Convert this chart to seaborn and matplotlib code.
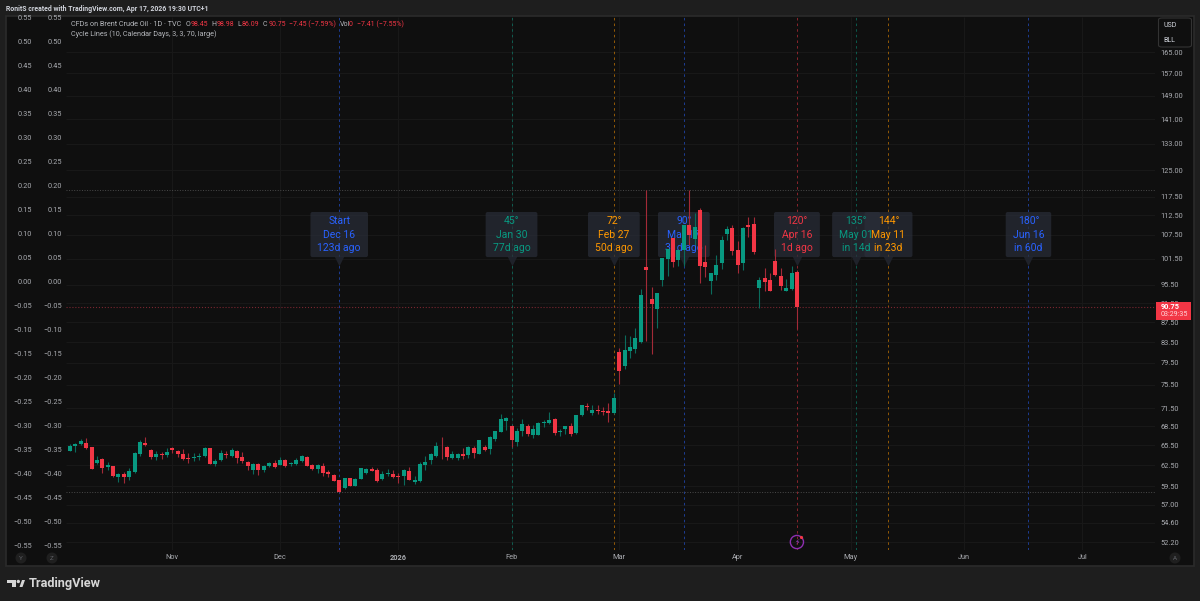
import matplotlib
matplotlib.use("Agg")
from matplotlib import pyplot as plt
from matplotlib.patches import Rectangle, FancyBboxPatch, Polygon, Circle
from matplotlib.ticker import FixedLocator, NullLocator, FuncFormatter
import numpy as np
import pandas as pd
import seaborn as sns

# Brent daily candles
opens = [64.7, 65.45, 65.7, 65.85, 65.25, 62.85, 63.45, 62.3, 62.45, 60.85, 61.25, 60.8, 61.5, 64.2, 65.85, 64.85, 63.8,
         64.15, 64.0, 65.1, 64.65, 64.15, 63.55, 63.6, 63.7, 63.9, 65.15, 62.65, 63.25, 64.15, 63.9, 64.65, 63.7, 63.0,
         61.85, 62.75, 61.85, 62.35, 62.85, 62.6, 63.3, 62.65, 62.75, 63.2, 63.7, 62.55, 62.0, 62.45, 61.55, 61.1, 60.4,
         59.22, 60.62, 59.61, 60.57, 61.43, 62.01, 61.87, 60.57, 61.19, 61.29, 60.9, 60.9, 61.72, 60.09, 60.23, 62.49,
         63.31, 63.95, 65.45, 65.3, 63.6, 63.55, 64.15, 64.05, 65.14, 64.26, 65.24, 64.88, 66.49, 67.58, 69.43, 68.62,
         65.97, 67.79, 68.57, 67.16, 67.16, 69.09, 68.98, 69.65, 67.53, 68.05, 68.57, 67.37, 70.27, 71.85, 70.67, 71.17,
         71.0, 71.0, 70.67, 81.5, 78.95, 81.85, 82.1, 83.45, 99.7, 92.4, 90.25, 96.7, 101.6, 106.55, 101.2, 103.7, 109.85,
         106.4, 113.85, 100.85, 96.4, 97.8, 100.6, 107.55, 109.25, 103.65, 100.55, 110.0, 110.25, 94.85, 97.05, 96.6,
         101.0, 97.55, 94.2, 94.5, 98.45]
highs = [65.75, 65.85, 66.55, 66.65, 65.25, 63.95, 63.65, 62.95, 62.45, 61.45, 61.6, 62.1, 64.45, 66.4, 66.8, 64.95, 64.6,
         64.55, 65.1, 65.3, 64.75, 64.95, 64.35, 64.4, 64.35, 65.3, 65.15, 63.4, 64.8, 64.6, 65.15, 64.8, 64.45, 63.1,
         62.85, 62.85, 62.6, 63.05, 63.3, 63.8, 63.4, 63.05, 63.55, 64.05, 63.9, 62.75, 62.75, 62.85, 61.85, 61.25, 60.4,
         60.71, 60.66, 60.66, 62.11, 62.06, 62.2, 62.06, 61.72, 61.91, 61.87, 61.39, 61.96, 62.25, 60.95, 62.97, 63.89,
         64.31, 65.97, 66.8, 65.45, 64.72, 64.41, 65.09, 65.45, 65.45, 66.38, 65.61, 66.9, 67.79, 70.55, 70.1, 68.72,
         68.2, 69.77, 68.82, 68.72, 69.26, 69.54, 70.78, 69.82, 68.1, 68.62, 68.98, 70.39, 72.07, 72.35, 72.07, 71.96,
         71.62, 72.35, 74.04, 82.3, 84.85, 84.65, 86.3, 94.55, 119.4, 95.0, 93.7, 101.8, 103.95, 106.55, 103.55, 110.0,
         119.25, 113.0, 114.4, 104.95, 98.1, 102.5, 107.05, 109.6, 110.0, 105.95, 109.4, 112.0, 111.9, 97.2, 99.4, 98.2,
         103.95, 99.4, 96.85, 99.95, 98.98]
lows = [64.7, 64.55, 65.6, 64.9, 62.0, 62.75, 61.45, 61.85, 60.85, 60.1, 60.0, 60.4, 61.4, 63.95, 65.45, 63.45, 63.35,
        63.45, 63.8, 64.4, 63.8, 63.35, 62.85, 63.2, 63.3, 63.8, 62.65, 62.35, 63.2, 63.55, 63.7, 62.9, 62.9, 61.85,
        61.25, 61.05, 61.5, 62.2, 62.1, 62.5, 62.2, 62.35, 62.6, 63.05, 62.35, 61.85, 61.45, 60.9, 60.8, 60.2, 58.65,
        59.17, 59.56, 59.51, 60.52, 61.29, 61.63, 60.13, 60.42, 60.95, 60.66, 59.99, 59.7, 60.33, 59.8, 60.09, 61.87,
        62.73, 63.79, 63.45, 63.31, 63.4, 63.31, 63.45, 63.6, 63.55, 64.2, 64.57, 64.2, 66.22, 67.53, 67.84, 65.24,
        65.35, 67.01, 66.9, 66.64, 67.11, 68.46, 68.88, 67.16, 66.9, 67.32, 66.9, 67.32, 70.22, 71.12, 70.27, 70.5,
        70.33, 69.15, 70.55, 75.7, 78.45, 80.35, 81.35, 83.25, 83.65, 81.25, 86.3, 95.15, 97.55, 99.6, 99.95, 99.95,
        104.95, 104.95, 95.85, 97.4, 93.55, 96.6, 99.1, 106.2, 102.5, 98.3, 98.95, 106.9, 102.65, 90.4, 94.2, 94.05,
        97.55, 94.4, 94.1, 94.35, 86.09]
closes = [65.45, 65.75, 66.25, 65.15, 62.0, 63.35, 62.15, 62.5, 60.9, 61.3, 60.85, 61.65, 64.35, 65.95, 65.6, 63.7, 64.25,
          64.05, 64.55, 64.8, 64.25, 63.45, 63.45, 63.7, 63.85, 65.05, 62.65, 63.1, 64.35, 64.05, 64.75, 63.55, 63.1, 62.45,
          62.75, 61.85, 62.45, 62.9, 62.25, 63.25, 62.35, 62.85, 63.35, 63.85, 62.45, 62.0, 62.55, 61.45, 61.2, 60.3, 58.65,
          60.66, 59.61, 60.57, 62.06, 61.91, 61.72, 60.23, 61.24, 61.34, 60.86, 60.81, 61.82, 60.42, 60.38, 62.68, 62.97,
          64.2, 65.45, 65.35, 63.79, 64.2, 64.15, 63.89, 65.3, 64.31, 66.33, 64.83, 66.8, 67.68, 69.65, 69.82, 66.28,
          67.79, 68.88, 67.22, 68.1, 69.09, 69.2, 69.54, 67.42, 67.79, 68.51, 67.27, 70.27, 71.96, 71.68, 71.12, 70.95,
          70.78, 70.72, 73.25, 77.95, 81.9, 82.55, 84.3, 93.3, 98.8, 91.25, 93.6, 101.8, 103.95, 100.85, 103.55, 110.0,
          107.5, 109.5, 99.95, 99.7, 98.1, 100.15, 106.2, 108.9, 103.3, 100.15, 109.25, 109.5, 103.15, 96.7, 96.15, 94.1,
          97.8, 95.15, 94.9, 98.25, 90.75]

price_ticks = [165, 157, 149, 141, 133, 125, 117.5, 112.5, 107.5, 101.5, 95.5, 91.5, 87.5, 83.5, 79.5, 75.5, 71.5, 68.5,
               65.5, 62.5, 59.5, 57, 54.6, 52.2]
left_ticks = [0.55, 0.5, 0.45, 0.4, 0.35, 0.3, 0.25, 0.2, 0.15, 0.1, 0.05, 0.0, -0.05, -0.1, -0.15, -0.2, -0.25, -0.3,
              -0.35, -0.4, -0.45, -0.5, -0.55]
month_labels = ["Nov", "Dec", "2026", "Feb", "Mar", "Apr", "May", "Jun", "Jul"]
month_bars = [19, 39, 61, 82, 102, 124, 145, 166, 188]

# cycle lines
cycle_bars = [50, 82, 101, 114, 135, 146, 152, 178]
cycle_angles = ["Start", "45°", "72°", "90°", "120°", "135°", "144°", "180°"]
cycle_dates = ["Dec 16", "Jan 30", "Feb 27", "Mar 17", "Apr 16", "May 01", "May 11", "Jun 16"]
cycle_ago = ["123d ago", "77d ago", "50d ago", "31d ago", "1d ago", "in 14d", "in 23d", "in 60d"]
cycle_colors = ["#2962ff", "#089981", "#ff9800", "#2962ff", "#f23645", "#089981", "#ff9800", "#2962ff"]
label_price = 100.9

last_price = 90.75
range_high = 119.4
range_low = 58.65
event_bar = 135
event_price = 52.2

W, H = 1200, 601
BG = "#1e1e1e"
PANEL = "#0f0f0f"
GREY = "#a9abb0"
LIGHT = "#d1d4dc"
RED = "#f23645"
GREEN = "#089981"


def fx(x):
    return x / W


def fy(y):
    return 1 - y / H


def label(x, y, s, color=GREY, size=5.0, **kw):
    fig.text(fx(x), fy(y), s, color=color, fontsize=size, va="center", **kw)


def candle_frame(a, b):
    up = np.array(closes) >= np.array(opens)
    rows = []
    for i in range(len(opens)):
        rows.append((i, a[i], up[i]))
        rows.append((i, b[i], up[i]))
    return pd.DataFrame(rows, columns=["bar", "price", "up"])


sns.set_theme(style="dark", rc={"axes.facecolor": PANEL, "figure.facecolor": BG, "lines.solid_capstyle": "butt"})
plt.rcParams["font.family"] = ["Roboto", "DejaVu Sans"]

fig = plt.figure(figsize=(W / 100, H / 100), dpi=100)

# panel behind the axes
fig.patches.append(Rectangle((fx(6), fy(565.5)), fx(1188), 549.5 / H, transform=fig.transFigure,
                             fc=PANEL, ec="#2b2b2b", lw=1.2, zorder=-1))

ax = fig.add_axes([fx(66), fy(550), fx(1155 - 66), 533 / H])
ax.set_facecolor(PANEL)
for s in ax.spines.values():
    s.set_visible(False)
ax.set_yscale("log")

ax.grid(True, which="major", color="#191919", lw=0.7)
ax.set_axisbelow(True)

for bar, col in zip(cycle_bars, cycle_colors):
    ax.axvline(bar, color=col, lw=0.7, ls=(0, (2.6, 3.2)), alpha=0.55, zorder=1)

ax.axhline(range_high, color="#4a4a4a", lw=0.7, ls=":", zorder=1.2)
ax.axhline(range_low, color="#4a4a4a", lw=0.7, ls=":", zorder=1.2)
ax.axhline(last_price, color="#7a2630", lw=0.8, ls=":", zorder=1.2)

sns.scatterplot(x=cycle_bars, y=[label_price] * len(cycle_bars), marker="v", s=48, color="#1f222a", linewidth=0,
                ax=ax, zorder=1.9, legend=False)

wicks = candle_frame(highs, lows)
bodies = candle_frame(opens, closes)
sns.lineplot(data=wicks, x="bar", y="price", units="bar", estimator=None, sort=False, hue="up",
             palette={True: "#0b6b5c", False: "#a32a37"}, lw=0.8, legend=False, ax=ax, zorder=3)
sns.lineplot(data=bodies, x="bar", y="price", units="bar", estimator=None, sort=False, hue="up",
             palette={True: GREEN, False: RED}, lw=2.9, legend=False, ax=ax, zorder=4)

# event marker under the last candle
sns.scatterplot(x=[event_bar], y=[event_price], marker="o", s=90, facecolor="none", edgecolor="#8e2fb0", linewidth=1.0,
                ax=ax, zorder=4, legend=False)
ax.text(event_bar, event_price, "⚡", color="#9c3cc4", fontsize=5.5, ha="center", va="center", zorder=5,
        family=["DejaVu Sans"])

ax.set_xlim(-0.74, 201.5)
ax.set_ylim(51.23, 179.2)
ax.set_xlabel("")
ax.set_ylabel("")

# cycle tooltips sit under the candles; box size comes from the measured text
renderer = fig.canvas.get_renderer()
for bar, ang, date, ago, col in zip(cycle_bars, cycle_angles, cycle_dates, cycle_ago, cycle_colors):
    t = ax.annotate(f"{ang}\n{date}\n{ago}", xy=(bar, label_price), xytext=(0, 19.4), textcoords="offset points",
                    ha="center", va="center", color=col, fontsize=7.5, linespacing=1.42, zorder=2.1)
    box = t.get_window_extent(renderer)
    ax.add_patch(FancyBboxPatch((box.x0 - 5, box.y0 - 2.2), box.width + 10, box.height + 4.4,
                                boxstyle="round,pad=2,rounding_size=2", transform=None,
                                fc="#2a2e39", ec="none", alpha=0.7, zorder=2))

ax.yaxis.tick_right()
ax.yaxis.set_major_locator(FixedLocator(price_ticks))
ax.yaxis.set_minor_locator(NullLocator())
ax.yaxis.set_major_formatter(FuncFormatter(lambda v, _: f"{v:.2f}"))
ax.set_xticks(month_bars)
ax.set_xticklabels(month_labels)
ax.tick_params(axis="y", which="both", length=0, pad=4.2, labelsize=5.3, labelcolor=GREY)
ax.tick_params(axis="x", length=0, pad=3.2, labelsize=5.3, labelcolor=GREY)
ax.get_xticklabels()[2].set_fontweight("bold")

# the two linear scales on the left
for pad in (2.8, 24.6):
    ax_left = fig.add_axes(ax.get_position(), sharex=ax, frameon=False)
    ax_left.set_ylim((282 - 550) / 480, (282 - 17) / 480)
    ax_left.set_yticks(left_ticks)
    ax_left.set_yticklabels([f"{v:.2f}".replace("-", "\u2212") for v in left_ticks])
    ax_left.tick_params(axis="y", length=0, pad=pad, labelsize=5.3, labelcolor=GREY)
    ax_left.tick_params(axis="x", length=0, labelbottom=False)
    ax_left.grid(False)
    ax_left.patch.set_visible(False)

# last price tag
fig.patches.append(Rectangle((fx(1156), fy(320)), fx(35), 18 / H, transform=fig.transFigure, fc=RED, ec="none", zorder=5))
label(1161, 307, f"{last_price:.2f}", color="white", size=5.3, fontweight="bold", zorder=6)
label(1161, 315, "03:29:35", color="#ffd5d9", size=5.1, zorder=6)

# currency / unit box
fig.patches.append(FancyBboxPatch((fx(1158.5), fy(47)), fx(33), 29 / H, boxstyle="round,pad=0,rounding_size=0.003",
                                  transform=fig.transFigure, fc=PANEL, ec="#333333", lw=0.8, zorder=5))
label(1163, 25.5, "USD", color=LIGHT, size=5.0, zorder=6)
label(1163, 41, "BLL", color=LIGHT, size=5.0, zorder=6)

# header and legend lines
label(6, 9, "RonitS created with TradingView.com, Apr 17, 2026 19:30 UTC+1", color=LIGHT, size=4.95, fontweight="bold")
label(71, 24.5, "CFDs on Brent Crude Oil · 1D · TVC", color="#b5b7bc", size=5.2)
for x, s, col in [(185.3, "O", "#b5b7bc"), (190.9, "98.45", RED), (211.7, "H", "#b5b7bc"), (216.9, "98.98", RED),
                  (237.7, "L", "#b5b7bc"), (242, "86.09", RED), (263, "C", "#b5b7bc"), (268.2, "90.75", RED),
                  (289, "\u22127.45 (\u22127.59%)", RED), (339.5, "Vol", "#b5b7bc"), (348.6, "0", RED),
                  (357, "\u22127.41 (\u22127.55%)", RED)]:
    label(x, 24.5, s, color=col)
label(71, 34.5, "Cycle Lines (10, Calendar Days, 3, 3, 70, large)", color="#b5b7bc", size=5.2)

# little round buttons
for x, s in [(21, "Y"), (52, "Z"), (1175, "A")]:
    fig.patches.append(Circle((x, H - 558), 5.5, transform=None, fc="#1f1f1f", ec="none", zorder=5))
    label(x, 558, s, color="#5f6166", size=4.5, ha="center", zorder=6)
fig.patches.append(Circle((801.5, H - 537.5), 1.6, transform=None, fc=RED, ec="none", zorder=6))

# footer logo
logo_col = "#d6d6d6"
for pts in ([(7, 580), (16, 580), (16, 587), (12, 587), (12, 583), (7, 583)],
            [(19.5, 587), (22, 580), (25, 580), (22.5, 587)]):
    fig.patches.append(Polygon([(fx(a), fy(b)) for a, b in pts], transform=fig.transFigure, fc=logo_col, ec="none"))
fig.patches.append(Circle((18.3, H - 581.5), 1.7, transform=None, fc=logo_col, ec="none"))
label(29, 583.5, "TradingView", color=logo_col, size=9.2, fontweight="bold")

fig.savefig("out.png", dpi=100, facecolor=BG)
